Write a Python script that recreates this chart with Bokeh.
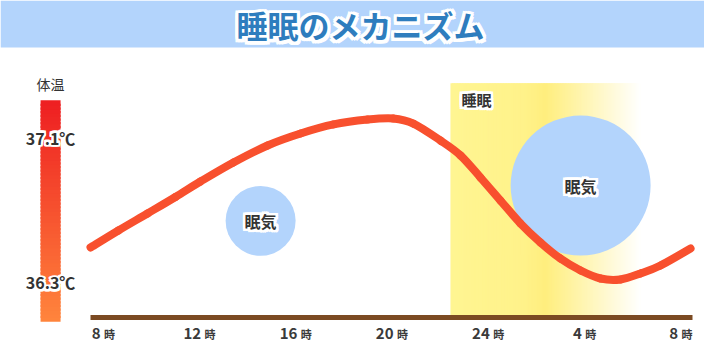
import numpy as np
from bokeh.plotting import figure
from bokeh.models import Range1d, BoxAnnotation
from bokeh.core.properties import value
from bokeh.embed import file_html
from bokeh.resources import INLINE

# ---------------- data ----------------
# hours elapsed since 8:00, body temperature (deg C)
curve_hours = [-0.54, 0.62, 1.83, 2.99, 4.03, 5.40, 6.82, 8.19, 9.56, 10.97, 12.05,
               12.88, 14.01, 14.84, 15.67, 16.50, 17.33, 18.16, 18.99, 19.83,
               20.66, 21.49, 22.32, 23.15, 24.40]
curve_temps = [36.493, 36.587, 36.681, 36.772, 36.857, 36.962, 37.056, 37.122, 37.172,
               37.199, 37.205, 37.177, 37.083, 37.001, 36.879, 36.752, 36.626, 36.521,
               36.432, 36.366, 36.322, 36.317, 36.350, 36.394, 36.488]

tick_hours = [0, 4, 8, 12, 16, 20, 24]
tick_numbers = ["8", "12", "16", "20", "24", "4", "8"]
tick_unit = "時"

temp_ticks = [37.1, 36.3]
temp_labels = ["37.1℃", "36.3℃"]

sleep_start, sleep_solid_end, sleep_fade_end = 14.42, 18.37, 22.32
sleep_top = 37.40

drowsy_hours = [6.53, 19.83]
drowsy_levels = [36.64, 36.835]
drowsy_sizes = [70, 140]
drowsy_text = ["眠気", "眠気"]

axis_hours = [-0.54, 24.48]
axis_temp = 36.107

thermo_hour = -2.20
thermo_top, thermo_bottom = 37.30, 36.09

title_text = "睡眠のメカニズム"
band_bottom = 37.597

FONT = value("Noto Sans CJK JP")
DARK = "#333333"

# ---------------- figure ----------------
p = figure(width=704, height=344, x_range=Range1d(-4.281, 24.979),
           y_range=Range1d(35.9579, 37.8559), output_backend="svg",
           toolbar_location=None, x_axis_type=None, y_axis_type=None,
           min_border=0, min_border_left=0, min_border_right=0,
           min_border_top=0, min_border_bottom=0)
p.grid.visible = False
p.outline_line_color = None
p.background_fill_color = "white"


def halo_text(x, y, text, size, color, bold=True, align="center", halo=2, **kw):
    style = "bold" if bold else "normal"
    offs = [(dx, dy) for dx in (-halo, 0, halo) for dy in (-halo, 0, halo) if (dx, dy) != (0, 0)]
    for dx, dy in offs:
        p.text(x=x, y=y, text=text, text_font=FONT, text_font_size=size,
               text_font_style=style, text_color="white", text_outline_color="white",
               text_align=align, text_baseline="middle", x_offset=dx, y_offset=dy, **kw)
    p.text(x=x, y=y, text=text, text_font=FONT, text_font_size=size,
           text_font_style=style, text_color=color, text_align=align,
           text_baseline="middle", **kw)


# title band
p.add_layout(BoxAnnotation(bottom=band_bottom, fill_color="#B3D4FC", fill_alpha=1,
                           line_color=None, level="underlay"))

# sleep gradient
stops_x = [sleep_start, sleep_solid_end - 0.9, sleep_solid_end, sleep_fade_end]
stops_c = [(255, 245, 146), (255, 242, 138), (255, 238, 126), (255, 255, 255)]
n = 120
edges = np.linspace(sleep_start, sleep_fade_end, n + 1)
mids = (edges[:-1] + edges[1:]) / 2
cols = []
for m in mids:
    rgb = [np.interp(m, stops_x, [c[k] for c in stops_c]) for k in range(3)]
    cols.append("#%02x%02x%02x" % tuple(int(round(v)) for v in rgb))
rights = np.append(edges[2:], edges[-1])
p.quad(left=edges[:-1], right=rights, bottom=axis_temp, top=sleep_top,
       fill_color=cols, line_color=None)

halo_text([sleep_start + 0.46], [sleep_top - 0.09], ["睡眠"], "15px", DARK, align="left")

# drowsiness bubbles
p.scatter(x=drowsy_hours, y=drowsy_levels, size=drowsy_sizes, marker="circle",
          fill_color="#B3D4FC", line_color=None)
halo_text(drowsy_hours, drowsy_levels, drowsy_text, "16px", DARK)

# thermometer bar
m = 60
tedges = np.linspace(thermo_bottom, thermo_top, m + 1)
tcols = []
for i in range(m):
    f = i / (m - 1)
    r = int(round(255 + (238 - 255) * f))
    g = int(round(132 + (32 - 132) * f))
    b = int(round(60 + (34 - 60) * f))
    tcols.append("#%02x%02x%02x" % (r, g, b))
tstep = tedges[1] - tedges[0]
p.rect(x=thermo_hour, y=(tedges[:-1] + tedges[1:]) / 2, width=20, width_units="screen",
       height=tstep * 1.6, fill_color=tcols, line_color=None)

p.text(x=[thermo_hour], y=[thermo_top + 0.095], text=["体温"], text_font=FONT,
       text_font_size="14px", text_color=DARK, text_align="center",
       text_baseline="middle")
halo_text([thermo_hour] * 2, temp_ticks, temp_labels, "16px", DARK, halo=1.5)

# temperature curve as smooth bezier pieces through the read points
P = np.column_stack([curve_hours, curve_temps])
N = len(P)
x0, y0, x1, y1, cx0, cy0, cx1, cy1 = ([] for _ in range(8))
for i in range(N - 1):
    a = P[max(i - 1, 0)]
    b = P[i]
    c = P[i + 1]
    d = P[min(i + 2, N - 1)]
    c0 = b + (c - a) / 6.0
    c1 = c - (d - b) / 6.0
    x0.append(b[0]); y0.append(b[1]); x1.append(c[0]); y1.append(c[1])
    cx0.append(c0[0]); cy0.append(c0[1]); cx1.append(c1[0]); cy1.append(c1[1])
p.bezier(x0=x0, y0=y0, x1=x1, y1=y1, cx0=cx0, cy0=cy0, cx1=cx1, cy1=cy1,
         line_color="#F8502E", line_width=8, line_cap="round")

# axis line
p.segment(x0=[axis_hours[0]], x1=[axis_hours[1]], y0=[axis_temp], y1=[axis_temp],
          line_color="#7B4A22", line_width=5)

# tick labels
num_w = [len(s) * 8.6 for s in tick_numbers]
kan_w = 11.0
gap = 3.5
num_off = [(-(w + gap + kan_w) / 2 + w) for w in num_w]
kan_off = [(-(w + gap + kan_w) / 2 + w + gap) for w in num_w]
p.text(x=tick_hours, y=[axis_temp] * len(tick_hours), text=tick_numbers, text_font=FONT,
       text_font_size="15px", text_font_style="bold", text_color="#3a3a3a",
       text_align="right", text_baseline="middle", x_offset=num_off, y_offset=16)
p.text(x=tick_hours, y=[axis_temp] * len(tick_hours), text=[tick_unit] * len(tick_hours),
       text_font=FONT, text_font_size="11px", text_font_style="bold", text_color="#3a3a3a",
       text_align="left", text_baseline="middle", x_offset=kan_off, y_offset=17)

# title
halo_text([10.68], [37.7234], [title_text], "31px", "#2E7DBE", halo=2.5)

open("out.html", "w").write(file_html(p, INLINE))
